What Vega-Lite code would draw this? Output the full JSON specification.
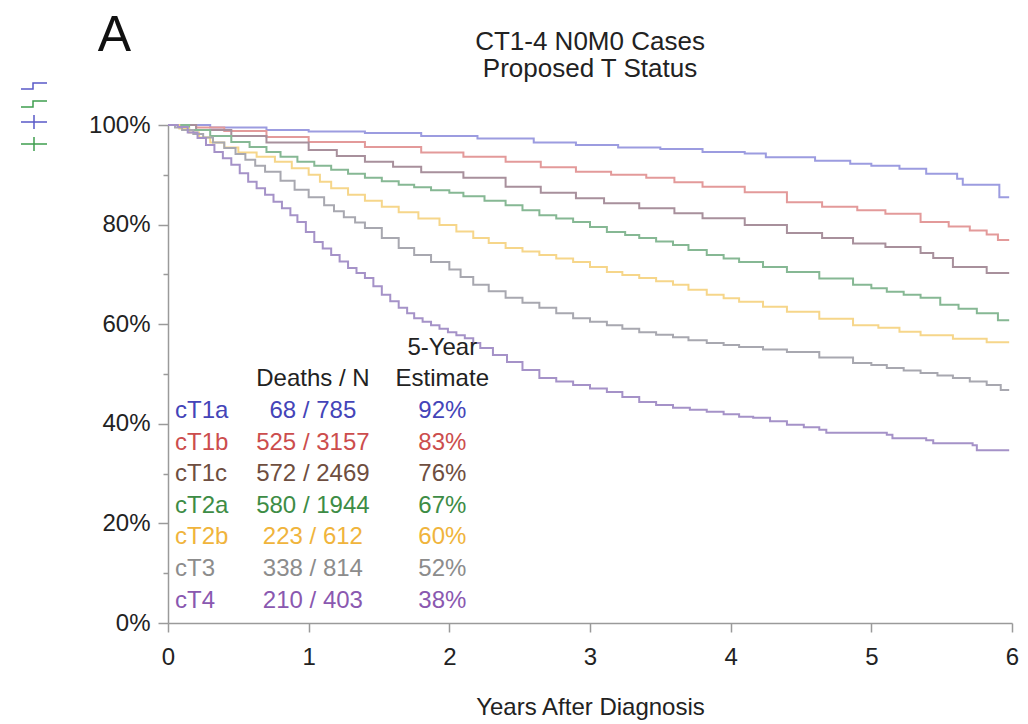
{
  "$schema": "https://vega.github.io/schema/vega-lite/v6.json",
  "width": 844,
  "height": 498,
  "autosize": {"type": "none"},
  "padding": {"left": 168, "top": 125, "right": 16, "bottom": 101},
  "background": "white",
  "config": {
    "view": {"stroke": null},
    "font": "Liberation Sans",
    "axis": {
      "domainColor": "#9a9a9a",
      "tickColor": "#9a9a9a",
      "domainWidth": 1.5,
      "tickWidth": 1.5,
      "labelColor": "#222222",
      "titleColor": "#222222",
      "labelFontSize": 24,
      "titleFontSize": 24,
      "titleFontWeight": "normal",
      "grid": false
    }
  },
  "title": {
    "text": ["CT1-4 N0M0 Cases", "Proposed T Status"],
    "fontSize": 26,
    "fontWeight": "normal",
    "color": "#222222",
    "anchor": "middle",
    "offset": -72,
    "lineHeight": 27
  },
  "datasets": {
    "curves": [
      {"stage":"cT1a","t":0,"s":1},{"stage":"cT1a","t":0.3,"s":0.995},{"stage":"cT1a","t":0.7,"s":0.99},{"stage":"cT1a","t":1.0,"s":0.987},{"stage":"cT1a","t":1.4,"s":0.984},{"stage":"cT1a","t":1.8,"s":0.978},{"stage":"cT1a","t":2.2,"s":0.973},{"stage":"cT1a","t":2.6,"s":0.965},{"stage":"cT1a","t":2.9,"s":0.96},{"stage":"cT1a","t":3.2,"s":0.955},{"stage":"cT1a","t":3.5,"s":0.952},{"stage":"cT1a","t":3.8,"s":0.946},{"stage":"cT1a","t":4.1,"s":0.943},{"stage":"cT1a","t":4.25,"s":0.935},{"stage":"cT1a","t":4.6,"s":0.928},{"stage":"cT1a","t":4.85,"s":0.922},{"stage":"cT1a","t":5.0,"s":0.918},{"stage":"cT1a","t":5.2,"s":0.912},{"stage":"cT1a","t":5.39,"s":0.902},{"stage":"cT1a","t":5.61,"s":0.892},{"stage":"cT1a","t":5.65,"s":0.88},{"stage":"cT1a","t":5.91,"s":0.855},{"stage":"cT1a","t":5.98,"s":0.855},

      {"stage":"cT1b","t":0,"s":1},{"stage":"cT1b","t":0.2,"s":0.995},{"stage":"cT1b","t":0.4,"s":0.988},{"stage":"cT1b","t":0.7,"s":0.976},{"stage":"cT1b","t":1.0,"s":0.966},{"stage":"cT1b","t":1.4,"s":0.956},{"stage":"cT1b","t":1.8,"s":0.945},{"stage":"cT1b","t":2.1,"s":0.936},{"stage":"cT1b","t":2.4,"s":0.926},{"stage":"cT1b","t":2.65,"s":0.915},{"stage":"cT1b","t":2.9,"s":0.906},{"stage":"cT1b","t":3.15,"s":0.9},{"stage":"cT1b","t":3.4,"s":0.894},{"stage":"cT1b","t":3.6,"s":0.885},{"stage":"cT1b","t":3.8,"s":0.876},{"stage":"cT1b","t":4.1,"s":0.865},{"stage":"cT1b","t":4.4,"s":0.845},{"stage":"cT1b","t":4.65,"s":0.836},{"stage":"cT1b","t":4.9,"s":0.829},{"stage":"cT1b","t":5.1,"s":0.822},{"stage":"cT1b","t":5.35,"s":0.805},{"stage":"cT1b","t":5.55,"s":0.796},{"stage":"cT1b","t":5.7,"s":0.788},{"stage":"cT1b","t":5.82,"s":0.78},{"stage":"cT1b","t":5.9,"s":0.769},{"stage":"cT1b","t":5.98,"s":0.769},

      {"stage":"cT1c","t":0,"s":1},{"stage":"cT1c","t":0.2,"s":0.99},{"stage":"cT1c","t":0.45,"s":0.978},{"stage":"cT1c","t":0.7,"s":0.965},{"stage":"cT1c","t":1.0,"s":0.95},{"stage":"cT1c","t":1.2,"s":0.938},{"stage":"cT1c","t":1.4,"s":0.926},{"stage":"cT1c","t":1.6,"s":0.916},{"stage":"cT1c","t":1.8,"s":0.905},{"stage":"cT1c","t":2.1,"s":0.894},{"stage":"cT1c","t":2.4,"s":0.876},{"stage":"cT1c","t":2.65,"s":0.864},{"stage":"cT1c","t":2.9,"s":0.853},{"stage":"cT1c","t":3.1,"s":0.843},{"stage":"cT1c","t":3.35,"s":0.833},{"stage":"cT1c","t":3.6,"s":0.823},{"stage":"cT1c","t":3.8,"s":0.813},{"stage":"cT1c","t":4.1,"s":0.799},{"stage":"cT1c","t":4.4,"s":0.783},{"stage":"cT1c","t":4.65,"s":0.773},{"stage":"cT1c","t":4.87,"s":0.762},{"stage":"cT1c","t":5.1,"s":0.755},{"stage":"cT1c","t":5.35,"s":0.743},{"stage":"cT1c","t":5.44,"s":0.733},{"stage":"cT1c","t":5.58,"s":0.715},{"stage":"cT1c","t":5.82,"s":0.703},{"stage":"cT1c","t":5.98,"s":0.703},

      {"stage":"cT2a","t":0,"s":1},{"stage":"cT2a","t":0.15,"s":0.99},{"stage":"cT2a","t":0.3,"s":0.978},{"stage":"cT2a","t":0.45,"s":0.966},{"stage":"cT2a","t":0.58,"s":0.956},{"stage":"cT2a","t":0.7,"s":0.946},{"stage":"cT2a","t":0.8,"s":0.936},{"stage":"cT2a","t":0.92,"s":0.926},{"stage":"cT2a","t":1.04,"s":0.918},{"stage":"cT2a","t":1.16,"s":0.91},{"stage":"cT2a","t":1.28,"s":0.902},{"stage":"cT2a","t":1.4,"s":0.894},{"stage":"cT2a","t":1.52,"s":0.887},{"stage":"cT2a","t":1.64,"s":0.88},{"stage":"cT2a","t":1.75,"s":0.875},{"stage":"cT2a","t":1.87,"s":0.869},{"stage":"cT2a","t":2.0,"s":0.864},{"stage":"cT2a","t":2.1,"s":0.857},{"stage":"cT2a","t":2.25,"s":0.848},{"stage":"cT2a","t":2.4,"s":0.839},{"stage":"cT2a","t":2.52,"s":0.829},{"stage":"cT2a","t":2.64,"s":0.819},{"stage":"cT2a","t":2.76,"s":0.812},{"stage":"cT2a","t":2.88,"s":0.805},{"stage":"cT2a","t":3.0,"s":0.795},{"stage":"cT2a","t":3.12,"s":0.785},{"stage":"cT2a","t":3.25,"s":0.779},{"stage":"cT2a","t":3.35,"s":0.773},{"stage":"cT2a","t":3.47,"s":0.766},{"stage":"cT2a","t":3.59,"s":0.759},{"stage":"cT2a","t":3.7,"s":0.749},{"stage":"cT2a","t":3.83,"s":0.739},{"stage":"cT2a","t":3.95,"s":0.732},{"stage":"cT2a","t":4.06,"s":0.725},{"stage":"cT2a","t":4.23,"s":0.715},{"stage":"cT2a","t":4.4,"s":0.705},{"stage":"cT2a","t":4.63,"s":0.692},{"stage":"cT2a","t":4.87,"s":0.679},{"stage":"cT2a","t":5.0,"s":0.672},{"stage":"cT2a","t":5.11,"s":0.665},{"stage":"cT2a","t":5.23,"s":0.659},{"stage":"cT2a","t":5.35,"s":0.653},{"stage":"cT2a","t":5.49,"s":0.639},{"stage":"cT2a","t":5.62,"s":0.631},{"stage":"cT2a","t":5.75,"s":0.622},{"stage":"cT2a","t":5.9,"s":0.608},{"stage":"cT2a","t":5.98,"s":0.608},

      {"stage":"cT2b","t":0,"s":1},{"stage":"cT2b","t":0.08,"s":0.993},{"stage":"cT2b","t":0.15,"s":0.985},{"stage":"cT2b","t":0.22,"s":0.975},{"stage":"cT2b","t":0.3,"s":0.965},{"stage":"cT2b","t":0.4,"s":0.955},{"stage":"cT2b","t":0.5,"s":0.945},{"stage":"cT2b","t":0.63,"s":0.936},{"stage":"cT2b","t":0.76,"s":0.926},{"stage":"cT2b","t":0.88,"s":0.913},{"stage":"cT2b","t":1.0,"s":0.9},{"stage":"cT2b","t":1.08,"s":0.886},{"stage":"cT2b","t":1.16,"s":0.873},{"stage":"cT2b","t":1.28,"s":0.86},{"stage":"cT2b","t":1.4,"s":0.848},{"stage":"cT2b","t":1.52,"s":0.836},{"stage":"cT2b","t":1.64,"s":0.825},{"stage":"cT2b","t":1.78,"s":0.812},{"stage":"cT2b","t":1.93,"s":0.799},{"stage":"cT2b","t":2.05,"s":0.786},{"stage":"cT2b","t":2.17,"s":0.773},{"stage":"cT2b","t":2.28,"s":0.763},{"stage":"cT2b","t":2.4,"s":0.753},{"stage":"cT2b","t":2.52,"s":0.746},{"stage":"cT2b","t":2.64,"s":0.739},{"stage":"cT2b","t":2.76,"s":0.732},{"stage":"cT2b","t":2.88,"s":0.725},{"stage":"cT2b","t":3.0,"s":0.715},{"stage":"cT2b","t":3.12,"s":0.705},{"stage":"cT2b","t":3.23,"s":0.699},{"stage":"cT2b","t":3.35,"s":0.693},{"stage":"cT2b","t":3.47,"s":0.686},{"stage":"cT2b","t":3.59,"s":0.679},{"stage":"cT2b","t":3.7,"s":0.669},{"stage":"cT2b","t":3.83,"s":0.659},{"stage":"cT2b","t":3.95,"s":0.652},{"stage":"cT2b","t":4.06,"s":0.645},{"stage":"cT2b","t":4.23,"s":0.635},{"stage":"cT2b","t":4.4,"s":0.625},{"stage":"cT2b","t":4.63,"s":0.611},{"stage":"cT2b","t":4.87,"s":0.598},{"stage":"cT2b","t":5.05,"s":0.593},{"stage":"cT2b","t":5.2,"s":0.585},{"stage":"cT2b","t":5.35,"s":0.578},{"stage":"cT2b","t":5.58,"s":0.571},{"stage":"cT2b","t":5.82,"s":0.564},{"stage":"cT2b","t":5.98,"s":0.564},

      {"stage":"cT3","t":0,"s":1},{"stage":"cT3","t":0.05,"s":0.995},{"stage":"cT3","t":0.1,"s":0.99},{"stage":"cT3","t":0.18,"s":0.982},{"stage":"cT3","t":0.25,"s":0.975},{"stage":"cT3","t":0.32,"s":0.965},{"stage":"cT3","t":0.4,"s":0.954},{"stage":"cT3","t":0.48,"s":0.942},{"stage":"cT3","t":0.55,"s":0.93},{"stage":"cT3","t":0.62,"s":0.918},{"stage":"cT3","t":0.69,"s":0.906},{"stage":"cT3","t":0.8,"s":0.888},{"stage":"cT3","t":0.9,"s":0.87},{"stage":"cT3","t":1.0,"s":0.855},{"stage":"cT3","t":1.11,"s":0.839},{"stage":"cT3","t":1.18,"s":0.827},{"stage":"cT3","t":1.25,"s":0.815},{"stage":"cT3","t":1.33,"s":0.804},{"stage":"cT3","t":1.4,"s":0.793},{"stage":"cT3","t":1.52,"s":0.773},{"stage":"cT3","t":1.64,"s":0.753},{"stage":"cT3","t":1.75,"s":0.739},{"stage":"cT3","t":1.87,"s":0.725},{"stage":"cT3","t":2.0,"s":0.71},{"stage":"cT3","t":2.08,"s":0.695},{"stage":"cT3","t":2.17,"s":0.679},{"stage":"cT3","t":2.28,"s":0.666},{"stage":"cT3","t":2.4,"s":0.653},{"stage":"cT3","t":2.52,"s":0.643},{"stage":"cT3","t":2.64,"s":0.633},{"stage":"cT3","t":2.76,"s":0.622},{"stage":"cT3","t":2.88,"s":0.612},{"stage":"cT3","t":3.0,"s":0.605},{"stage":"cT3","t":3.12,"s":0.598},{"stage":"cT3","t":3.23,"s":0.591},{"stage":"cT3","t":3.35,"s":0.584},{"stage":"cT3","t":3.47,"s":0.579},{"stage":"cT3","t":3.59,"s":0.574},{"stage":"cT3","t":3.7,"s":0.568},{"stage":"cT3","t":3.83,"s":0.562},{"stage":"cT3","t":3.95,"s":0.558},{"stage":"cT3","t":4.06,"s":0.554},{"stage":"cT3","t":4.23,"s":0.549},{"stage":"cT3","t":4.4,"s":0.544},{"stage":"cT3","t":4.63,"s":0.533},{"stage":"cT3","t":4.87,"s":0.522},{"stage":"cT3","t":5.0,"s":0.518},{"stage":"cT3","t":5.11,"s":0.512},{"stage":"cT3","t":5.23,"s":0.507},{"stage":"cT3","t":5.35,"s":0.502},{"stage":"cT3","t":5.47,"s":0.497},{"stage":"cT3","t":5.58,"s":0.492},{"stage":"cT3","t":5.7,"s":0.485},{"stage":"cT3","t":5.82,"s":0.478},{"stage":"cT3","t":5.92,"s":0.468},{"stage":"cT3","t":5.98,"s":0.468},

      {"stage":"cT4","t":0,"s":1},{"stage":"cT4","t":0.07,"s":0.996},{"stage":"cT4","t":0.14,"s":0.985},{"stage":"cT4","t":0.21,"s":0.974},{"stage":"cT4","t":0.27,"s":0.96},{"stage":"cT4","t":0.33,"s":0.946},{"stage":"cT4","t":0.39,"s":0.933},{"stage":"cT4","t":0.45,"s":0.92},{"stage":"cT4","t":0.51,"s":0.903},{"stage":"cT4","t":0.57,"s":0.886},{"stage":"cT4","t":0.63,"s":0.873},{"stage":"cT4","t":0.69,"s":0.86},{"stage":"cT4","t":0.75,"s":0.846},{"stage":"cT4","t":0.81,"s":0.833},{"stage":"cT4","t":0.87,"s":0.819},{"stage":"cT4","t":0.92,"s":0.805},{"stage":"cT4","t":0.98,"s":0.785},{"stage":"cT4","t":1.04,"s":0.765},{"stage":"cT4","t":1.1,"s":0.752},{"stage":"cT4","t":1.16,"s":0.739},{"stage":"cT4","t":1.22,"s":0.726},{"stage":"cT4","t":1.28,"s":0.713},{"stage":"cT4","t":1.34,"s":0.703},{"stage":"cT4","t":1.4,"s":0.693},{"stage":"cT4","t":1.46,"s":0.676},{"stage":"cT4","t":1.52,"s":0.659},{"stage":"cT4","t":1.58,"s":0.646},{"stage":"cT4","t":1.64,"s":0.633},{"stage":"cT4","t":1.7,"s":0.622},{"stage":"cT4","t":1.75,"s":0.612},{"stage":"cT4","t":1.81,"s":0.605},{"stage":"cT4","t":1.87,"s":0.598},{"stage":"cT4","t":1.93,"s":0.591},{"stage":"cT4","t":1.99,"s":0.584},{"stage":"cT4","t":2.05,"s":0.578},{"stage":"cT4","t":2.11,"s":0.572},{"stage":"cT4","t":2.17,"s":0.562},{"stage":"cT4","t":2.22,"s":0.552},{"stage":"cT4","t":2.31,"s":0.538},{"stage":"cT4","t":2.41,"s":0.524},{"stage":"cT4","t":2.52,"s":0.508},{"stage":"cT4","t":2.64,"s":0.492},{"stage":"cT4","t":2.76,"s":0.485},{"stage":"cT4","t":2.88,"s":0.478},{"stage":"cT4","t":3.0,"s":0.471},{"stage":"cT4","t":3.12,"s":0.464},{"stage":"cT4","t":3.23,"s":0.454},{"stage":"cT4","t":3.35,"s":0.444},{"stage":"cT4","t":3.47,"s":0.438},{"stage":"cT4","t":3.59,"s":0.432},{"stage":"cT4","t":3.71,"s":0.428},{"stage":"cT4","t":3.83,"s":0.424},{"stage":"cT4","t":3.95,"s":0.419},{"stage":"cT4","t":4.06,"s":0.414},{"stage":"cT4","t":4.16,"s":0.412},{"stage":"cT4","t":4.28,"s":0.405},{"stage":"cT4","t":4.4,"s":0.398},{"stage":"cT4","t":4.52,"s":0.393},{"stage":"cT4","t":4.63,"s":0.388},{"stage":"cT4","t":4.68,"s":0.382},{"stage":"cT4","t":5.11,"s":0.378},{"stage":"cT4","t":5.15,"s":0.371},{"stage":"cT4","t":5.39,"s":0.367},{"stage":"cT4","t":5.44,"s":0.361},{"stage":"cT4","t":5.72,"s":0.357},{"stage":"cT4","t":5.75,"s":0.347},{"stage":"cT4","t":5.98,"s":0.347}
    ],
    "table": [
      {"stage": "cT1a", "row": 1, "deaths_n": "68 / 785", "estimate": "92%"},
      {"stage": "cT1b", "row": 2, "deaths_n": "525 / 3157", "estimate": "83%"},
      {"stage": "cT1c", "row": 3, "deaths_n": "572 / 2469", "estimate": "76%"},
      {"stage": "cT2a", "row": 4, "deaths_n": "580 / 1944", "estimate": "67%"},
      {"stage": "cT2b", "row": 5, "deaths_n": "223 / 612", "estimate": "60%"},
      {"stage": "cT3", "row": 6, "deaths_n": "338 / 814", "estimate": "52%"},
      {"stage": "cT4", "row": 7, "deaths_n": "210 / 403", "estimate": "38%"}
    ],
    "headers": [
      {"column": "deaths_n", "row": 0, "text": "Deaths / N"},
      {"column": "estimate", "row": 0, "text": "Estimate"},
      {"column": "estimate", "row": -1, "text": "5-Year"}
    ],
    "keys": [
      {"key": "cT1a survival"},
      {"key": "cT1b survival"},
      {"key": "cT1a censored"},
      {"key": "cT1b censored"}
    ]
  },
  "resolve": {"scale": {"y": "independent", "color": "independent", "shape": "independent"}},
  "layer": [
    {
      "data": {"name": "curves"},
      "mark": {"type": "line", "interpolate": "step-after", "strokeWidth": 2, "clip": false},
      "encoding": {
        "x": {
          "field": "t",
          "type": "quantitative",
          "scale": {"domain": [0, 6], "nice": false},
          "axis": {
            "values": [0, 1, 2, 3, 4, 5, 6],
            "format": "d",
            "title": "Years After Diagnosis",
            "tickSize": 9,
            "labelPadding": 13,
            "titlePadding": 26,
            "labelFlush": false
          }
        },
        "y": {
          "field": "s",
          "type": "quantitative",
          "scale": {"domain": [0, 1], "nice": false},
          "axis": {
            "values": [0, 0.1, 0.2, 0.3, 0.4, 0.5, 0.6, 0.7, 0.8, 0.9, 1],
            "format": ".0%",
            "labelExpr": "round(datum.value * 10) % 2 == 0 ? datum.label : ''",
            "tickSize": {"condition": {"test": "round(datum.value * 10) % 2 == 0", "value": 10}, "value": 5},
            "labelPadding": 8,
            "title": "A",
            "titleAngle": 0,
            "titleFontSize": 50,
            "titleColor": "#111111",
            "titleAlign": "center",
            "titleBaseline": "middle",
            "titleX": -54,
            "titleY": -90
          }
        },
        "color": {
          "field": "stage",
          "type": "nominal",
          "scale": {
            "domain": ["cT1a", "cT1b", "cT1c", "cT2a", "cT2b", "cT3", "cT4"],
            "range": ["#9c9ce0", "#e39a9a", "#a8909c", "#86b894", "#f6d68a", "#a8a8b0", "#a592c8"]
          },
          "legend": null
        },
        "detail": {"field": "stage"}
      }
    },
    {
      "data": {"name": "keys"},
      "mark": {"type": "point", "filled": false, "opacity": 0},
      "encoding": {
        "shape": {
          "field": "key",
          "type": "nominal",
          "scale": {
            "domain": ["cT1a survival", "cT1b survival", "cT1a censored", "cT1b censored"],
            "range": ["M-1.3,0.3H-0.1V-0.3H1.3", "M-1.3,0.3H-0.1V-0.3H1.3", "M-1.3,0H1.3M0,-0.7V0.7", "M-1.3,0H1.3M0,-0.7V0.7"]
          },
          "legend": {
            "orient": "none",
            "legendX": -145,
            "legendY": -50,
            "title": null,
            "padding": 0,
            "symbolSize": 400,
            "symbolStrokeWidth": 1.5,
            "symbolOpacity": 1,
            "symbolFillColor": "transparent",
            "labelOpacity": 0,
            "labelFontSize": 1,
            "rowPadding": 1
          }
        },
        "color": {
          "field": "key",
          "type": "nominal",
          "scale": {
            "domain": ["cT1a survival", "cT1b survival", "cT1a censored", "cT1b censored"],
            "range": ["#5a5ac8", "#3f9e4f", "#5a5ac8", "#3f9e4f"]
          }
        }
      }
    },
    {
      "layer": [
        {
          "data": {"name": "table"},
          "mark": {"type": "text", "align": "left", "baseline": "middle", "fontSize": 24},
          "encoding": {
            "x": {"datum": 0.05, "type": "quantitative"},
            "y": {"field": "row", "type": "quantitative"},
            "text": {"field": "stage"},
            "color": {"field": "stage"}
          }
        },
        {
          "data": {"name": "table"},
          "mark": {"type": "text", "align": "center", "baseline": "middle", "fontSize": 24},
          "encoding": {
            "x": {"datum": 1.03, "type": "quantitative"},
            "y": {"field": "row", "type": "quantitative"},
            "text": {"field": "deaths_n"},
            "color": {"field": "stage"}
          }
        },
        {
          "data": {"name": "table"},
          "mark": {"type": "text", "align": "center", "baseline": "middle", "fontSize": 24},
          "encoding": {
            "x": {"datum": 1.95, "type": "quantitative"},
            "y": {"field": "row", "type": "quantitative"},
            "text": {"field": "estimate"},
            "color": {"field": "stage"}
          }
        },
        {
          "data": {"name": "headers"},
          "transform": [{"filter": "datum.column == 'deaths_n'"}],
          "mark": {"type": "text", "align": "center", "baseline": "middle", "fontSize": 24, "color": "#222222"},
          "encoding": {
            "x": {"datum": 1.03, "type": "quantitative"},
            "y": {"field": "row", "type": "quantitative"},
            "text": {"field": "text"}
          }
        },
        {
          "data": {"name": "headers"},
          "transform": [{"filter": "datum.column == 'estimate'"}],
          "mark": {"type": "text", "align": "center", "baseline": "middle", "fontSize": 24, "color": "#222222"},
          "encoding": {
            "x": {"datum": 1.95, "type": "quantitative"},
            "y": {"field": "row", "type": "quantitative"},
            "text": {"field": "text"}
          }
        }
      ],
      "encoding": {
        "y": {
          "type": "quantitative",
          "scale": {"domain": [-8.05, 7.71], "reverse": true, "nice": false, "zero": false},
          "axis": null
        },
        "color": {
          "type": "nominal",
          "scale": {
            "domain": ["cT1a", "cT1b", "cT1c", "cT2a", "cT2b", "cT3", "cT4"],
            "range": ["#4444b8", "#cc4d4d", "#6e4e40", "#3d8c45", "#f0b43c", "#8c8c8c", "#8a58b0"]
          },
          "legend": null
        }
      }
    }
  ]
}
